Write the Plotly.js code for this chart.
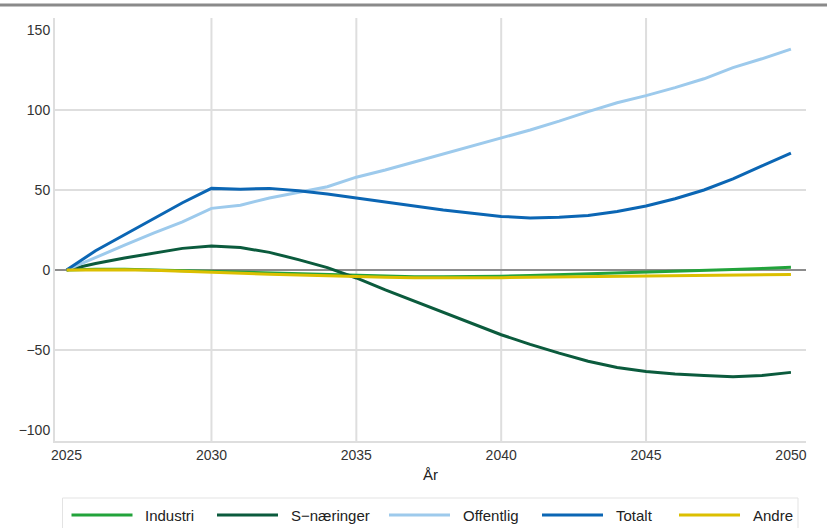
<!DOCTYPE html>
<html>
<head>
<meta charset="utf-8">
<script src="https://cdn.plot.ly/plotly-3.0.1.min.js"></script>
<style>
  html, body { margin: 0; padding: 0; background: #ffffff; }
  #chart { width: 827px; height: 528px; }
</style>
</head>
<body>
<div id="chart"></div>
<script>
// ---- data ----
const years = [2025, 2026, 2027, 2028, 2029, 2030, 2031, 2032, 2033, 2034, 2035, 2036, 2037,
               2038, 2039, 2040, 2041, 2042, 2043, 2044, 2045, 2046, 2047, 2048, 2049, 2050];

const industri = [0, 0.5, 0.5, 0, -0.3, -0.7, -1.2, -1.8, -2.4, -3.0, -3.6, -4.0, -4.2,
                  -4.3, -4.2, -3.9, -3.5, -3.0, -2.5, -2.0, -1.5, -1.0, -0.4, 0.3, 1.0, 1.7];

const sNaeringer = [0, 4, 7.5, 10.5, 13.5, 15, 14, 11, 6.5, 1.5, -5, -12.5, -19.5,
                    -27, -34, -40.5, -46.5, -52, -57, -61, -63.5, -65, -66, -66.7, -66, -64];

const offentlig = [0, 8, 15.5, 23, 30, 38.5, 40.5, 45, 48.5, 52, 58, 62.5, 67.5,
                   72.5, 77.5, 82.5, 87.5, 93, 99, 104.5, 109, 114, 119.5, 126.5, 132, 138];

const totalt = [0, 12, 22, 32, 42, 51, 50.5, 51, 49.5, 47.5, 45, 42.5, 40,
                37.5, 35.5, 33.5, 32.5, 33, 34, 36.5, 40, 44.5, 50, 57, 65, 73];

const andre = [0, 0.3, 0.2, -0.2, -0.7, -1.3, -1.9, -2.6, -3.2, -3.8, -4.3, -4.6, -4.8,
               -4.9, -4.9, -4.8, -4.6, -4.4, -4.1, -3.8, -3.5, -3.3, -3.1, -3.0, -2.9, -2.8];

const seriesNames = ["Industri", "S\u2212næringer", "Offentlig", "Totalt", "Andre"];
const seriesValues = [industri, sNaeringer, offentlig, totalt, andre];

const xTickVals = [2025, 2030, 2035, 2040, 2045, 2050];
const yTickVals = [-100, -50, 0, 50, 100, 150];
const xGridVals = [2030, 2035, 2040, 2045];
const yGridVals = [-50, 50, 100];
const xTitle = "År";

// ---- styles ----
const colors = ["#22a33b", "#0b5b3d", "#9dcaec", "#0b66b4", "#dcbf00"];
const FONT = "Liberation Sans, Arial, sans-serif";
const GRID = "#dedede";

// plot area in pixels
const L = 55, R = 806, T = 18, B = 441, W = 827, H = 528;
const xp = px => (px - L) / (R - L);
const yp = py => (B - py) / (B - T);

const traces = seriesNames.map((name, i) => ({
  x: years,
  y: seriesValues[i],
  name: name,
  type: "scatter",
  mode: "lines",
  line: { color: colors[i], width: 3 },
  showlegend: false,
  hoverinfo: "x+y+name"
}));

const shapes = [];
const annotations = [];

// gridlines
xGridVals.forEach(v => shapes.push({
  type: "line", layer: "below", xref: "x", yref: "paper",
  x0: v, x1: v, y0: 0, y1: 1, line: { color: GRID, width: 2 }
}));
yGridVals.forEach(v => shapes.push({
  type: "line", layer: "below", xref: "paper", yref: "y",
  x0: 0, x1: 1, y0: v, y1: v, line: { color: GRID, width: 2 }
}));

// top rule
shapes.push({
  type: "line", xref: "paper", yref: "paper",
  x0: xp(0), x1: xp(W), y0: yp(5), y1: yp(5),
  line: { color: "#8a8a8a", width: 3 }
});

// legend box
shapes.push({
  type: "rect", xref: "paper", yref: "paper",
  x0: xp(62.5), x1: xp(798), y0: yp(498), y1: yp(540),
  line: { color: "#e3e3e3", width: 1 }, fillcolor: "rgba(0,0,0,0)"
});
const legendStarts = [71.5, 217, 389, 542, 679];
const legendY = 515;
seriesNames.forEach((name, i) => {
  const s = legendStarts[i];
  shapes.push({
    type: "line", xref: "paper", yref: "paper",
    x0: xp(s), x1: xp(s + 61), y0: yp(legendY), y1: yp(legendY),
    line: { color: colors[i], width: 3 }
  });
  annotations.push({
    xref: "paper", yref: "paper", x: xp(s + 71.5), y: yp(legendY),
    xanchor: "left", yanchor: "middle", showarrow: false,
    text: name, font: { family: FONT, size: 15, color: "#222222" }
  });
});

const layout = {
  width: W, height: H,
  margin: { l: L, r: W - R, t: T, b: H - B, pad: 0 },
  paper_bgcolor: "#ffffff",
  plot_bgcolor: "#ffffff",
  showlegend: false,
  font: { family: FONT, size: 14, color: "#333333" },
  xaxis: {
    range: [2024.6, 2050.52],
    tickvals: xTickVals,
    ticktext: xTickVals.map(String),
    showgrid: false,
    zeroline: false,
    showline: true, linecolor: GRID, linewidth: 2,
    ticks: "", tickfont: { family: FONT, size: 14, color: "#333333" },
    title: { text: xTitle, font: { family: FONT, size: 15, color: "#222222" }, standoff: 8 },
    automargin: false, fixedrange: true
  },
  yaxis: {
    range: [-106.9, 157.5],
    tickvals: yTickVals,
    showgrid: false,
    zeroline: true, zerolinecolor: "#8c8c8c", zerolinewidth: 2,
    showline: true, linecolor: GRID, linewidth: 2,
    ticks: "", tickfont: { family: FONT, size: 14, color: "#333333" },
    automargin: false, fixedrange: true
  },
  shapes: shapes,
  annotations: annotations
};

Plotly.newPlot("chart", traces, layout, { displayModeBar: false, staticPlot: true });
</script>
</body>
</html>
